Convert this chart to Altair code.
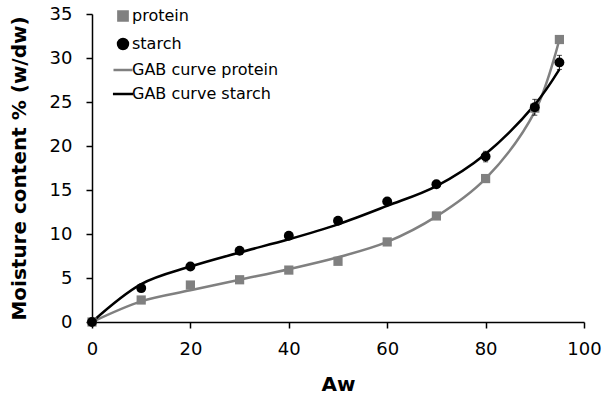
import altair as alt
import pandas as pd

aw = [0, 10, 20, 30, 40, 50, 60, 70, 80, 90, 95]
protein = [0, 2.5, 4.2, 4.8, 5.9, 6.9, 9.1, 12.05, 16.3, 24.3, 32.1]
starch = [0, 3.85, 6.3, 8.1, 9.8, 11.5, 13.7, 15.65, 18.8, 24.4, 29.5]
starch_err = [0, 0.1, 0.1, 0.1, 0.1, 0.15, 0.2, 0.2, 0.6, 0.9, 0.8]
gab_protein = [0, 2.35, 3.6, 4.8, 6.0, 7.35, 9.1, 12.0, 16.3, 23.9, 32.1]
gab_starch = [0, 4.3, 6.3, 7.9, 9.4, 11.1, 13.2, 15.45, 19.1, 24.7, 28.7]

series_names = ["protein", "starch", "GAB curve protein", "GAB curve starch"]
colors = ["#808080", "#000000", "#808080", "#000000"]
line_path = "M-1.8,0H1.8"
shapes = ["square", "circle", line_path, line_path]
sizes = [85, 125, 100, 100]

pts = pd.DataFrame(
    [{"aw": a, "mc": v, "series": "protein"} for a, v in zip(aw, protein)]
    + [{"aw": a, "mc": v, "series": "starch"} for a, v in zip(aw, starch)]
)
curves = pd.DataFrame(
    [{"aw": a, "mc": v, "series": "GAB curve protein"} for a, v in zip(aw, gab_protein)]
    + [{"aw": a, "mc": v, "series": "GAB curve starch"} for a, v in zip(aw, gab_starch)]
)
err = pd.DataFrame(
    [{"aw": a, "lo": v - e, "hi": v + e} for a, v, e in zip(aw, starch, starch_err) if e > 0]
)

x = alt.X("aw:Q", title="Aw",
          scale=alt.Scale(domain=[0, 100], nice=False),
          axis=alt.Axis(values=[0, 20, 40, 60, 80, 100]))
y = alt.Y("mc:Q", title="Moisture content % (w/dw)",
          scale=alt.Scale(domain=[0, 35], nice=False),
          axis=alt.Axis(values=[0, 5, 10, 15, 20, 25, 30, 35]))

leg = alt.Legend(title=None, orient="none", legendX=23, legendY=-6,
                 labelFontSize=16, labelFont="DejaVu Sans", labelColor="black",
                 rowPadding=8, symbolStrokeWidth=2.5, labelOffset=1,
                 symbolOpacity=1, padding=0, symbolSize=90)

fill_scale = alt.Scale(domain=series_names, range=colors)
shape_scale = alt.Scale(domain=series_names, range=shapes)
size_scale = alt.Scale(domain=series_names, range=sizes)

lines = alt.Chart(curves).mark_line(strokeWidth=2.5, interpolate="catmull-rom").encode(
    x=x, y=y,
    stroke=alt.Stroke("series:N", scale=fill_scale, legend=leg, sort=series_names),
    detail="series:N",
)

points = alt.Chart(pts).mark_point(filled=True, opacity=1, strokeWidth=0).encode(
    x=x, y=y,
    fill=alt.Fill("series:N", scale=fill_scale, legend=leg, sort=series_names),
    shape=alt.Shape("series:N", scale=shape_scale, legend=leg, sort=series_names),
    size=alt.Size("series:N", scale=size_scale, legend=None),
)

bars = alt.Chart(err).mark_rule(color="black", strokeWidth=1).encode(
    x="aw:Q", y="lo:Q", y2="hi:Q")
cap_lo = alt.Chart(err).mark_tick(color="black", orient="horizontal", size=5, thickness=1).encode(
    x="aw:Q", y="lo:Q")
cap_hi = alt.Chart(err).mark_tick(color="black", orient="horizontal", size=5, thickness=1).encode(
    x="aw:Q", y="hi:Q")

chart = alt.layer(lines, bars, cap_lo, cap_hi, points).resolve_scale(
    fill="shared", stroke="shared", shape="shared"
).properties(
    width=492, height=308,
    autosize=alt.AutoSizeParams(type="none"),
    padding={"left": 92, "top": 14, "right": 20, "bottom": 74},
).configure_view(stroke=None).configure_axis(
    grid=False, domainColor="black", domainWidth=1.5, tickColor="black",
    tickSize=6, tickWidth=1.5, labelFont="DejaVu Sans", labelFontSize=18,
    labelColor="black", titleFont="DejaVu Sans", titleFontSize=20,
    titleFontWeight="bold", titleColor="black",
).configure_axisX(labelPadding=12, titlePadding=16, labelFlush=False
).configure_axisY(labelPadding=14, titlePadding=20)

chart.save("out.html", embed_options={"renderer": "svg", "actions": False})
